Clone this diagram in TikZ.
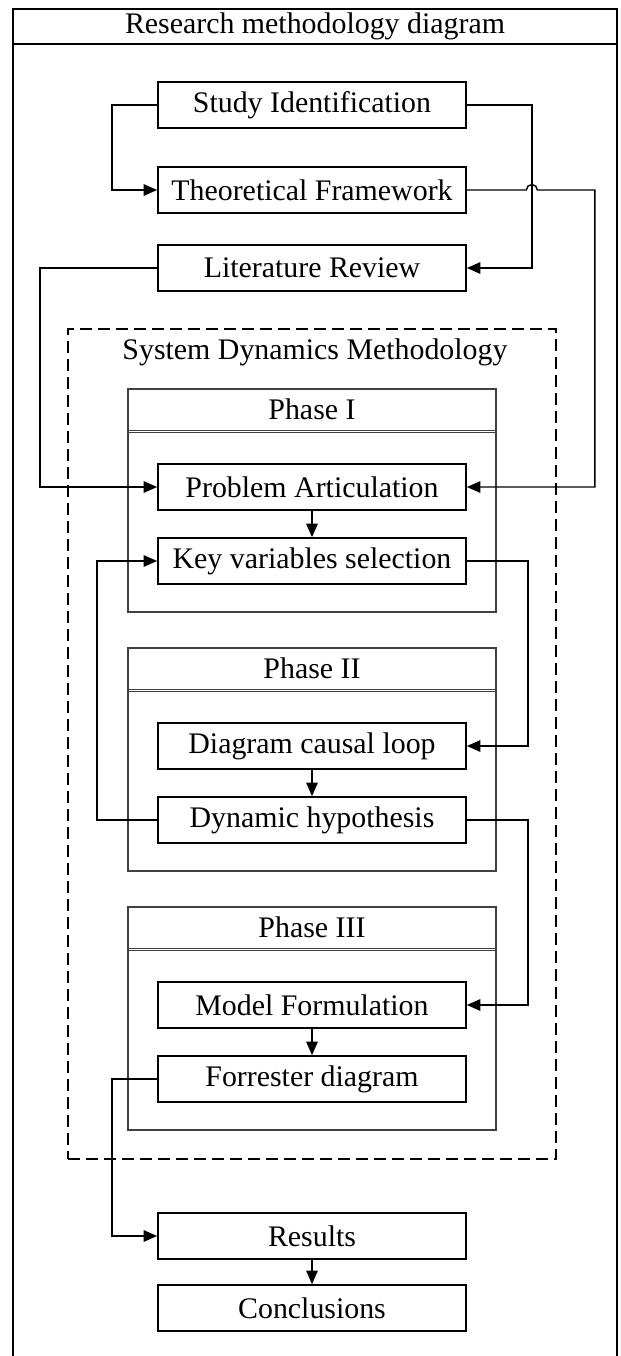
\documentclass[tikz,border=0pt]{standalone}
\usepackage{fontspec}
\setmainfont{Liberation Serif}
\usetikzlibrary{arrows.meta}
\begin{document}
\begin{tikzpicture}
[boxdecorate/.style={shape=rectangle,draw,line width=0.95pt,minimum width=6.16cm,minimum height=0.92cm,inner sep=0pt},%
  phasedecorate/.style={shape=rectangle,draw=black!75,line width=0.6pt,minimum width=7.36cm,minimum height=4.46cm,inner sep=0pt},%
  headdecorate/.style={-,draw=black!75,line width=0.55pt},%
  linedecorate/.style={-{Triangle[length=0.27cm,width=0.23cm]},line width=0.8pt},%
  font=\fontsize{17}{20}\selectfont]
\useasboundingbox (0,0) rectangle (12.4,-27.12);
%%% outer frame with title bar
\draw[line width=0.9pt] (0.26,-27.12) -- (0.26,-0.18) -- (12.34,-0.18) -- (12.34,-27.12);
\draw[line width=0.9pt] (0.26,-0.88) -- (12.34,-0.88);
\node (title) at (6.3,-0.53) {Research methodology diagram};
%
%%% first steps
% nodes
\node (si) at (6.24,-2.10) [boxdecorate] {Study Identification};
\node (tf) at (6.24,-3.80) [boxdecorate] {Theoretical Framework};
\node (lr) at (6.24,-5.36) [boxdecorate] {Literature Review};
%
%%% system dynamics methodology (dashed)
\node (sdm) at (6.24,-14.88) [shape=rectangle,draw,dashed,dash pattern=on 0.24cm off 0.12cm,line width=0.6pt,minimum width=9.76cm,minimum height=16.6cm,inner sep=0pt] {};
\node (sdmt) at (6.3,-7.04) {System Dynamics Methodology};
%
%%% Phase I
\node (ph1) at (6.24,-10.01) [phasedecorate] {};
\node (ph1t) at (6.24,-8.19) {Phase I};
\draw[headdecorate] (2.56,-8.60) -- (9.92,-8.60);
\draw[headdecorate] (2.56,-8.65) -- (9.92,-8.65);
\node (pa) at (6.24,-9.74) [boxdecorate,fill=white] {Problem Articulation};
\node (kv) at (6.24,-11.22) [boxdecorate,fill=white] {Key variables selection};
%
%%% Phase II
\node (ph2) at (6.24,-15.19) [phasedecorate] {};
\node (ph2t) at (6.24,-13.37) {Phase II};
\draw[headdecorate] (2.56,-13.78) -- (9.92,-13.78);
\draw[headdecorate] (2.56,-13.83) -- (9.92,-13.83);
\node (dcl) at (6.24,-14.92) [boxdecorate,fill=white] {Diagram causal loop};
\node (dh) at (6.24,-16.40) [boxdecorate,fill=white] {Dynamic hypothesis};
%
%%% Phase III
\node (ph3) at (6.24,-20.37) [phasedecorate] {};
\node (ph3t) at (6.24,-18.55) {Phase III};
\draw[headdecorate] (2.56,-18.96) -- (9.92,-18.96);
\draw[headdecorate] (2.56,-19.01) -- (9.92,-19.01);
\node (mf) at (6.24,-20.10) [boxdecorate,fill=white] {Model Formulation};
\node (fd) at (6.24,-21.58) [boxdecorate,fill=white] {Forrester diagram};
%
%%% last steps
\node (res) at (6.24,-24.72) [boxdecorate] {Results};
\node (con) at (6.24,-26.16) [boxdecorate] {Conclusions};
%
% edges or lines
\draw[linedecorate] (si.west) -- ++(-0.9,0) |- (tf.west);
\draw[linedecorate] (si.east) -- ++(1.3,0) |- (lr.east);
\draw[linedecorate] (tf.east) -- ++(1.19,0) arc[start angle=180,end angle=0,radius=0.11] -- ++(1.15,0) |- (pa.east);
\draw[linedecorate] (lr.west) -- ++(-2.34,0) |- (pa.west);
\draw[linedecorate] (kv.east) -- ++(1.22,0) |- (dcl.east);
\draw[linedecorate] (dh.west) -- ++(-1.2,0) |- (kv.west);
\draw[linedecorate] (dh.east) -- ++(1.22,0) |- (mf.east);
\draw[linedecorate] (fd.west) -- ++(-0.9,0) |- (res.west);
\path
(pa) edge[linedecorate] (kv)
(dcl) edge[linedecorate] (dh)
(mf) edge[linedecorate] (fd)
(res) edge[linedecorate] (con);
\end{tikzpicture}
\end{document}
